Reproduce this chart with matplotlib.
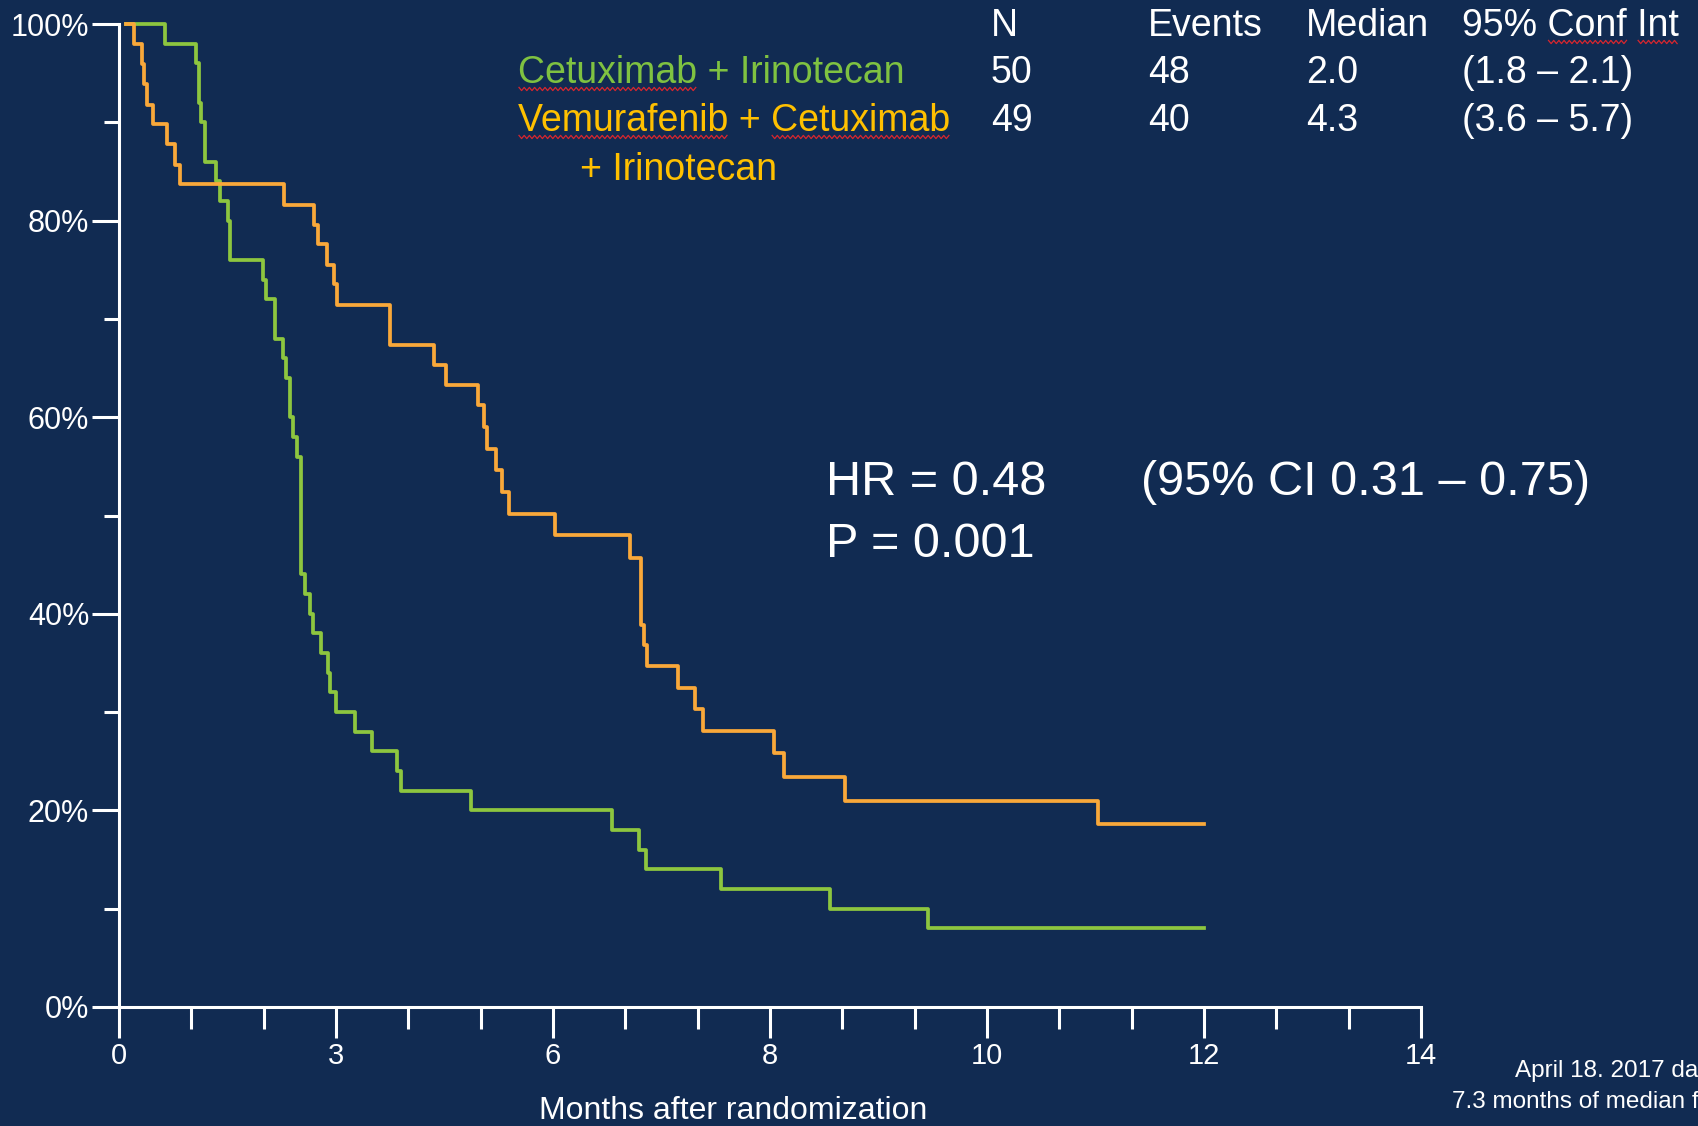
import numpy as np
import matplotlib
matplotlib.use('Agg')
import matplotlib.pyplot as plt
from matplotlib.lines import Line2D
from matplotlib.transforms import IdentityTransform

# time in axis tick units (the printed labels are 0,3,6,8,10,12,14), survival in %
green_t = [0.10, 0.64, 1.06, 1.10, 1.13, 1.19, 1.34, 1.40, 1.50, 1.53, 1.99, 2.03,
           2.15, 2.27, 2.31, 2.36, 2.41, 2.46, 2.51, 2.57, 2.64, 2.68, 2.79, 2.89,
           2.92, 3.00, 3.26, 3.50, 3.84, 3.90, 4.86, 6.82, 7.19, 7.29, 8.32, 9.83,
           11.19, 15.0]
green_s = [100, 98, 96, 92, 90, 86, 84, 82, 80, 76, 74, 72,
           68, 66, 64, 60, 58, 56, 44, 42, 40, 38, 36, 34,
           32, 30, 28, 26, 24, 22, 20, 18, 16, 14, 12, 10,
           8, 8]

orange_t = [0.10, 0.21, 0.32, 0.35, 0.39, 0.47, 0.67, 0.78, 0.84, 2.28, 2.69, 2.75,
            2.88, 2.97, 3.01, 3.75, 4.36, 4.52, 4.97, 5.05, 5.09, 5.21, 5.29, 5.39,
            6.03, 7.07, 7.22, 7.26, 7.30, 7.73, 7.96, 8.07, 9.05, 9.20, 10.03, 13.54,
            15.0]
orange_s = [100, 98.0, 95.9, 93.9, 91.8, 89.8, 87.8, 85.7, 83.7, 81.6, 79.6, 77.6,
            75.5, 73.5, 71.4, 67.3, 65.3, 63.3, 61.2, 59.0, 56.8, 54.6, 52.4, 50.2,
            48.0, 45.7, 38.9, 36.8, 34.7, 32.5, 30.3, 28.1, 25.8, 23.4, 21.0, 18.6,
            18.6]

x_ticks = [0, 3, 6, 9, 12, 15, 18]
x_labels = ['0', '3', '6', '8', '10', '12', '14']
y_ticks = [0, 20, 40, 60, 80, 100]
y_labels = ['0%', '20%', '40%', '60%', '80%', '100%']

arm_green = ['Cetuximab + Irinotecan']
arm_orange = ['Vemurafenib + Cetuximab', '+ Irinotecan']
cols = ['N', 'Events', 'Median', '95% Conf Int']
n_pts = ['50', '49']
events = ['48', '40']
medians = ['2.0', '4.3']
conf = ['(1.8 \u2013 2.1)', '(3.6 \u2013 5.7)']
hr_text = ['HR = 0.48', '(95% CI 0.31 \u2013 0.75)', 'P = 0.001']
note = ['April 18. 2017 data cutoff', '7.3 months of median follow-up']

bg = '#112b52'
green = '#8dc63f'
orange = '#f9a83a'
green_txt = '#7fc241'
orange_txt = '#ffc000'

plt.rcParams['font.family'] = ['Liberation Sans', 'DejaVu Sans']

W, H = 1698, 1126
fig = plt.figure(figsize=(W / 100, H / 100), dpi=100, facecolor=bg)


def fx(x):
    return x / W


def fy(y):
    return 1 - y / H


ax = fig.add_axes([fx(119), fy(1007), fx(1421) - fx(119), fy(24) - fy(1007)])
ax.set_facecolor(bg)
ax.step(green_t, green_s, where='post', color=green, lw=2.7, clip_on=False, zorder=3)
ax.step(orange_t, orange_s, where='post', color=orange, lw=2.7, clip_on=False, zorder=4)
ax.set_xlim(0, 18)
ax.set_ylim(0, 100)
for s in ['top', 'right']:
    ax.spines[s].set_visible(False)
for s in ['left', 'bottom']:
    ax.spines[s].set_color('white')
    ax.spines[s].set_linewidth(2.2)
    ax.spines[s].set_zorder(5)

ax.set_xticks(x_ticks, x_labels)
ax.set_xticks(range(19), minor=True)
ax.set_yticks(y_ticks, y_labels)
ax.set_yticks(range(10, 100, 20), minor=True)
ax.tick_params(axis='x', which='major', length=22, width=2.2, color='white',
               labelcolor='white', labelsize=21, pad=3)
ax.tick_params(axis='x', which='minor', length=16, width=2.2, color='white')
ax.tick_params(axis='y', which='major', length=19.5, width=2.2, color='white',
               labelcolor='white', labelsize=22, pad=2)
ax.tick_params(axis='y', which='minor', length=11, width=2.2, color='white')

fig.text(fx(733), fy(1119), 'Months after randomization', ha='center', va='baseline',
         size=23, color='white')

renderer = fig.canvas.get_renderer()


def squiggle(x0, x1, y):
    xs = np.arange(x0, x1, 2.6)
    ys = y + np.where(np.arange(len(xs)) % 2 == 0, 1.6, -1.6)
    fig.add_artist(Line2D(xs, ys, transform=IdentityTransform(), color='#d8262e', lw=0.9))


def word_span(x, y, full, start, end, size):
    # pixel extent of full[start:end] when full is drawn at (x, y)
    a = fig.text(fx(x), fy(y), full[:start], size=size, va='baseline')
    b = fig.text(fx(x), fy(y), full[:end], size=size, va='baseline')
    xa = a.get_window_extent(renderer).x1 if start > 0 else fig.transFigure.transform((fx(x), 0))[0]
    xb = b.get_window_extent(renderer).x1
    a.remove()
    b.remove()
    return xa, xb


def label(x, y, s, color, size, marks=()):
    fig.text(fx(x), fy(y), s, size=size, color=color, va='baseline')
    for w in marks:
        i = s.index(w) if w != 'Cetuximab2' else s.rindex('Cetuximab')
        n = len('Cetuximab') if w == 'Cetuximab2' else len(w)
        x0, x1 = word_span(x, y, s, i, i + n, size)
        squiggle(x0 + 1, x1, H - y - 6)


# legend
label(518, 83, arm_green[0], green_txt, 27, marks=['Cetuximab'])
label(518, 131, arm_orange[0], orange_txt, 27, marks=['Vemurafenib', 'Cetuximab2'])
label(580, 180, arm_orange[1], orange_txt, 27)

# table
col_x = [991, 1148, 1306, 1462]
label(col_x[0], 36, cols[0], 'white', 27)
label(col_x[1], 36, cols[1], 'white', 27)
label(col_x[2], 36, cols[2], 'white', 27)
label(col_x[3], 36, cols[3], 'white', 27, marks=['Conf', 'Int'])
for row, yb in enumerate([83, 131]):
    for cx, vals in zip(col_x, [n_pts, events, medians, conf]):
        label(cx, yb, vals[row], 'white', 27)

# hazard ratio
label(826, 495, hr_text[0], 'white', 35)
label(1141, 495, hr_text[1], 'white', 35)
label(826, 557, hr_text[2], 'white', 35)

# data cutoff note (runs off the right edge as in the slide)
label(1515, 1077, note[0], 'white', 17.5)
label(1452, 1108, note[1], 'white', 17.5)

fig.savefig('out.png', dpi=100, facecolor=bg)
